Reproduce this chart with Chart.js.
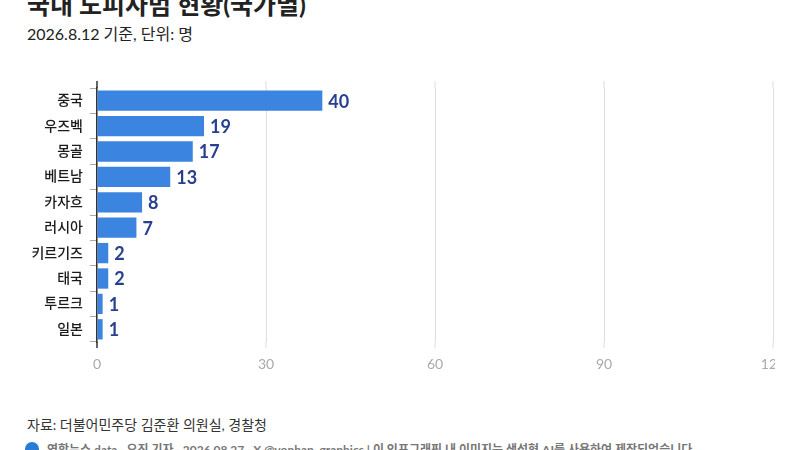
<!DOCTYPE html>
<html><head><meta charset="utf-8">
<script src="https://cdn.jsdelivr.net/npm/chart.js@4.4.0/dist/chart.umd.min.js"></script>
<style>
html,body{margin:0;padding:0;background:#fff;}
body{width:800px;height:450px;overflow:hidden;position:relative;font-family:Lato,"Noto Sans CJK KR",sans-serif;}
.t{position:absolute;left:27px;white-space:nowrap;}
#title{top:-11px;font-size:25px;font-weight:700;color:#222;line-height:30px;}
#sub{top:23px;font-size:16px;color:#222;line-height:22px;}
#src{top:415px;font-size:14px;color:#333;line-height:20px;}
#credit{top:442px;left:47px;font-size:12px;font-weight:700;color:#777;line-height:16px;}
#logo{position:absolute;left:25px;top:442px;width:14px;height:14px;border-radius:50%;background:#2a7bd6;}
#wrap{position:absolute;left:0;top:60px;width:775px;height:322px;overflow:hidden;}
</style></head>
<body>
<div class="t" id="title">국내 도피사범 현황(국가별)</div>
<div class="t" id="sub">2026.8.12 기준, 단위: 명</div>
<div id="wrap"><canvas id="c" width="800" height="322" style="width:800px;height:322px;"></canvas></div>
<div class="t" id="src">자료: 더불어민주당 김준환 의원실, 경찰청</div>
<div id="logo"></div>
<div class="t" id="credit">연합뉴스 data · 오진 기자 · 2026.08.27 · X @yonhap_graphics | 이 인포그래픽 내 이미지는 생성형 AI를 사용하여 제작되었습니다</div>
<script>
const categories = ["중국","우즈벡","몽골","베트남","카자흐","러시아","키르기즈","태국","투르크","일본"];
const values = [40,19,17,13,8,7,2,2,1,1];
const xTicks = [0,30,60,90,120];

const FONT = 'Lato, "Noto Sans CJK KR", sans-serif';

const extendGrid = {
  id:'extendGrid',
  afterDraw(chart){
    const ctx = chart.ctx, x = chart.scales.x, a = chart.chartArea;
    ctx.save();
    x.ticks.forEach(t=>{
      const px = x.getPixelForValue(t.value);
      ctx.beginPath();
      ctx.lineWidth = t.value===0 ? 1.5 : 1;
      ctx.strokeStyle = t.value===0 ? '#333' : '#dedede';
      ctx.moveTo(px, a.top-7); ctx.lineTo(px, a.top);
      ctx.moveTo(px, a.bottom); ctx.lineTo(px, a.bottom+6);
      ctx.stroke();
    });
    ctx.restore();
  }
};
const valueLabels = {
  id:'valueLabels',
  afterDatasetsDraw(chart){
    const ctx = chart.ctx;
    const meta = chart.getDatasetMeta(0);
    ctx.save();
    ctx.font = 'bold 18px ' + FONT;
    ctx.fillStyle = '#28408f';
    ctx.textAlign = 'left';
    ctx.textBaseline = 'middle';
    meta.data.forEach((bar,i)=>{
      ctx.fillText(String(values[i]), bar.x + 6, bar.y + 1);
    });
    ctx.restore();
  }
};

new Chart(document.getElementById('c'), {
  type:'bar',
  data:{labels:categories, datasets:[{data:values, backgroundColor:'#3b84e0', barPercentage:0.8, categoryPercentage:1.0}]},
  options:{
    indexAxis:'y',
    responsive:false,
    animation:false,
    devicePixelRatio:1,
    layout:{padding:{top:28,right:27,left:0,bottom:0}},
    plugins:{legend:{display:false},tooltip:{enabled:false}},
    scales:{
      x:{
        min:0,max:120,
        afterBuildTicks(s){ s.ticks = xTicks.map(v=>({value:v})); },
        afterFit(s){ s.height = 40; s.paddingLeft = 0; s.paddingRight = 0; },
        grid:{color:'#dedede', drawTicks:false, lineWidth:1},
        border:{display:false},
        ticks:{padding:14, color:'#aaa', font:{family:FONT,size:14}}
      },
      y:{
        afterFit(s){ s.width = 97; },
        grid:{drawOnChartArea:false, drawTicks:true, tickLength:7, color:'#aaa'},
        border:{display:true, color:'#333', width:1.5},
        ticks:{padding:7, color:'#1a1a1a', font:{family:FONT,size:14,weight:'500'}}
      }
    }
  },
  plugins:[extendGrid, valueLabels]
});
</script>
</body></html>
